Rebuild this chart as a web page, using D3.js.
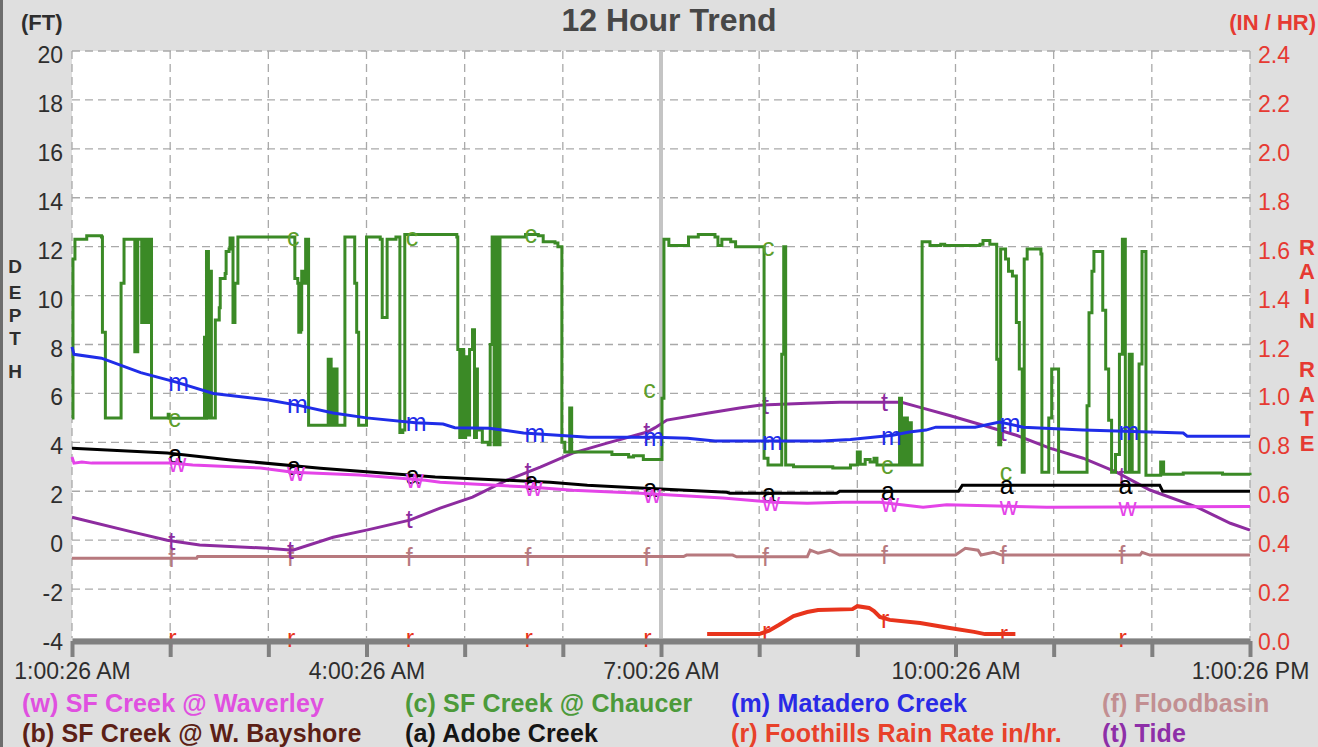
<!DOCTYPE html>
<html><head><meta charset="utf-8">
<script src="https://cdn.jsdelivr.net/npm/d3@7"></script>
<style>
body{margin:0;background:#dfdfdf;}
svg{display:block;font-family:"Liberation Sans",Arial,Helvetica,sans-serif;}
</style>
</head><body>
<svg id="chart" width="1318" height="747"></svg>
<script>
// ---------- DATA (time in hours after 1:00:26 AM, depth in ft, rain in in/hr) ----------
const depthTicks = [20,18,16,14,12,10,8,6,4,2,0,-2,-4];
const rateTicks = [2.4,2.2,2.0,1.8,1.6,1.4,1.2,1.0,0.8,0.6,0.4,0.2,0.0];
const hourTicks = [0,1,2,3,4,5,6,7,8,9,10,11,12];
const timeLabels = {0:"1:00:26 AM",3:"4:00:26 AM",6:"7:00:26 AM",9:"10:00:26 AM",12:"1:00:26 PM"};
const labelHours = [0.98,2.19,3.40,4.61,5.82,7.03,8.24,9.45,10.66];

const chaucer = [[0,5.0],[0.01,11.5],[0.03,12.3],[0.15,12.45],[0.30,12.4],[0.31,8.5],[0.34,5.0],[0.49,5.0],[0.50,10.5],[0.53,12.3],[0.62,12.3],[0.64,7.7],[0.67,12.3],[0.71,8.9],[0.74,12.3],[0.76,8.9],[0.79,12.3],[0.81,5.0],
[0.98,5.15],[0.99,4.98],[1.33,4.98],[1.35,8.3],[1.36,4.98],[1.37,11.8],[1.39,5.0],[1.41,11.0],[1.42,5.0],[1.46,9.0],[1.50,9.5],[1.51,10.7],[1.56,10.9],[1.57,11.8],[1.60,11.9],[1.61,12.35],[1.64,8.9],[1.66,10.5],[1.69,12.4],[2.26,12.4],[2.27,10.7],[2.30,10.5],[2.31,8.5],[2.33,8.6],[2.34,11.0],[2.37,10.5],[2.38,12.3],[2.41,4.7],[2.60,4.7],[2.61,7.4],[2.64,4.7],[2.67,7.0],[2.70,4.7],[2.76,4.7],[2.78,12.4],[2.86,12.4],[2.88,10.5],[2.90,8.5],[2.92,4.7],[2.99,4.7],[3.00,12.4],[3.14,12.3],[3.16,9.1],[3.19,9.1],[3.21,12.3],[3.30,12.4],[3.34,4.4],[3.37,4.5],[3.39,12.5],[3.92,12.4],[3.93,7.8],[3.95,4.2],
[3.97,7.8],[3.99,4.2],[4.01,7.5],[4.03,4.3],[4.05,7.8],[4.08,8.6],[4.10,4.2],[4.12,7.0],[4.13,4.5],[4.18,4.0],[4.24,3.9],[4.26,8.0],[4.28,12.4],[4.30,3.9],[4.33,12.4],[4.34,3.9],[4.36,12.4],[4.62,12.5],[4.75,12.45],[4.80,12.2],[4.92,12.15],[4.95,12.0],[4.99,4.0],[5.02,3.6],[5.07,5.4],[5.09,3.6],[5.19,3.6],[5.50,3.5],[5.67,3.4],[5.72,3.45],[5.82,3.3],[6.01,5.8],[6.03,12.3],[6.08,12.05],[6.27,12.05],[6.28,12.4],[6.38,12.5],[6.55,12.4],[6.58,12.05],[6.62,12.3],[6.71,12.2],[6.76,12.0],[7.05,3.35],[7.09,3.07],[7.23,7.6],[7.25,12.0],[7.27,3.07],[7.35,3.0],[7.75,2.95],[7.93,3.07],[8.00,3.6],[8.03,3.1],[8.08,3.3],[8.13,3.2],[8.17,3.35],[8.20,3.07],[8.43,5.8],[8.45,3.07],[8.48,5.0],[8.51,3.07],[8.53,4.8],[8.55,3.07],[8.66,12.2],[8.74,12.05],[8.85,12.1],[8.89,12.05],[9.25,12.1],[9.28,12.25],[9.35,12.1],[9.42,7.4],[9.44,3.9],[9.46,11.9],[9.51,11.5],[9.54,11.0],[9.58,10.8],[9.62,8.9],[9.65,7.0],[9.68,2.78],[9.70,11.5],[9.73,11.9],[9.87,11.7],[9.88,2.78],[9.95,5.0],[9.98,7.0],[10.05,2.78],[10.34,5.5],[10.36,9.3],[10.39,11.0],[10.41,11.8],[10.50,9.4],[10.53,7.0],[10.56,4.9],[10.59,2.78],[10.63,3.5],[10.67,7.6],[10.70,12.3],[10.73,2.78],[10.77,7.6],[10.80,2.78],[10.87,7.2],[10.90,11.8],[10.94,2.65],[11.09,3.2],[11.12,2.7],[11.32,2.75],[11.72,2.7],[12,2.65]];
const chaucerLabelValues = [5.0,12.4,12.4,12.5,6.2,12.0,3.07,2.8,null];

const matadero = [[0,7.9],[0.02,7.6],[0.30,7.44],[0.70,6.85],[1.07,6.45],[1.44,6.0],[2.00,5.73],[2.32,5.5],[2.66,5.2],[3.00,5.0],[3.50,4.8],[3.78,4.75],[3.90,4.6],[4.25,4.58],[4.60,4.38],[5.26,4.21],[5.94,4.21],[6.27,4.17],[6.55,4.05],[7.64,4.05],[7.93,4.12],[8.36,4.29],[8.53,4.42],[8.70,4.5],[8.80,4.62],[9.20,4.62],[9.45,4.83],[9.69,4.62],[10.30,4.5],[11.32,4.38],[11.36,4.25],[12,4.25]];

const adobe = [[0,3.76],[0.97,3.56],[1.64,3.27],[2.53,2.94],[3.70,2.58],[4.87,2.37],[5.25,2.25],[5.79,2.13],[6.67,1.96],[6.70,1.92],[7.79,1.92],[7.82,2.0],[9.03,2.0],[9.07,2.25],[11.08,2.25],[11.11,2.0],[12,2.0]];

const waverley = [[0,3.4],[0.02,3.15],[0.10,3.2],[0.20,3.15],[1.00,3.15],[1.23,3.07],[1.92,2.95],[2.25,2.78],[2.93,2.66],[3.60,2.45],[3.75,2.37],[4.66,2.17],[5.10,2.04],[5.79,1.92],[6.63,1.72],[7.14,1.55],[7.49,1.51],[7.85,1.55],[8.23,1.55],[8.67,1.35],[8.91,1.45],[9.93,1.35],[12,1.38]];

const tide = [[0,0.94],[0.62,0.33],[0.97,0.0],[1.30,-0.2],[1.99,-0.33],[2.25,-0.41],[2.66,0.12],[3.00,0.41],[3.44,0.82],[3.75,1.31],[4.08,1.76],[4.43,2.45],[4.77,2.99],[5.10,3.56],[5.45,3.97],[5.86,4.42],[5.94,4.6],[6.06,4.91],[6.47,5.19],[6.80,5.4],[7.00,5.52],[7.49,5.6],[7.82,5.64],[8.45,5.64],[8.62,5.45],[8.94,5.1],[9.28,4.7],[9.62,4.29],[9.96,3.76],[10.30,3.35],[10.64,2.78],[10.98,2.05],[11.46,1.35],[11.80,0.69],[12,0.41]];

const floodbasin = [[0,-0.74],[1.27,-0.74],[1.28,-0.67],[6.23,-0.67],[6.26,-0.61],[6.73,-0.61],[6.77,-0.68],[7.49,-0.68],[7.52,-0.41],[7.60,-0.53],[7.72,-0.41],[7.82,-0.61],[9.00,-0.61],[9.10,-0.33],[9.23,-0.41],[9.26,-0.61],[9.39,-0.5],[9.47,-0.61],[10.88,-0.61],[10.90,-0.5],[10.98,-0.61],[12,-0.61]];

const rainRate = [[6.47,0.016],[7.00,0.016],[7.10,0.03],[7.20,0.053],[7.35,0.09],[7.49,0.106],[7.60,0.114],[7.95,0.118],[8.00,0.13],[8.12,0.123],[8.17,0.11],[8.23,0.086],[8.33,0.074],[8.64,0.061],[8.94,0.041],[9.19,0.025],[9.30,0.016],[9.61,0.016]];

const legendRow1 = ["(w) SF Creek @ Waverley","(c) SF Creek @ Chaucer","(m) Matadero Creek","(f) Floodbasin"];
const legendRow2 = ["(b) SF Creek @ W. Bayshore","(a) Adobe Creek","(r) Foothills Rain Rate in/hr.","(t) Tide"];

// ---------- RENDER ----------
const svg = d3.select("#chart");
const W = 1318, H = 747;
const L = 72, R = 1250, T = 51, B = 638;
const x = d3.scaleLinear([0,12],[L,R]);
const y = d3.scaleLinear([-4,20],[B,T]);
const yR = d3.scaleLinear([0,2.4],[B,T]);

svg.append("rect").attr("width",W).attr("height",H).attr("fill","#dfdfdf");
svg.append("rect").attr("x",0).attr("y",0).attr("width",3).attr("height",H).attr("fill","#6d6d6d");
svg.append("rect").attr("x",L).attr("y",T).attr("width",R-L).attr("height",B-T).attr("fill","#fff");

// grid
const grid = svg.append("g").attr("stroke","#a9a9a9").attr("stroke-width",1.3).attr("stroke-dasharray","8,5");
grid.selectAll("line.h").data(depthTicks.filter(d=>d>-4)).join("line")
  .attr("x1",L).attr("x2",R).attr("y1",d=>y(d)).attr("y2",d=>y(d));
grid.selectAll("line.v").data(hourTicks.filter(d=>d!==6)).join("line")
  .attr("x1",d=>x(d)).attr("x2",d=>x(d)).attr("y1",T).attr("y2",B);
svg.append("line").attr("x1",x(6)).attr("x2",x(6)).attr("y1",T).attr("y2",B)
  .attr("stroke","#c4c4c4").attr("stroke-width",4);

// left axis labels
const gl = svg.append("g").attr("transform",`translate(${L},0)`)
  .call(d3.axisLeft(y).tickValues(depthTicks).tickSize(0).tickPadding(9).tickFormat(d=>String(d)));
gl.select(".domain").remove();
gl.selectAll("text").attr("font-size",23).attr("fill","#2e2e2e").attr("dy","0.5em")
  .attr("font-family","Liberation Sans, Arial, sans-serif");

// right axis labels
const gr = svg.append("g").attr("transform",`translate(${R},0)`)
  .call(d3.axisRight(yR).tickValues(rateTicks).tickSize(0).tickPadding(8).tickFormat(d=>d.toFixed(1)));
gr.select(".domain").remove();
gr.selectAll("text").attr("font-size",23).attr("fill","#e63a32").attr("dy","0.5em")
  .attr("font-family","Liberation Sans, Arial, sans-serif");

// series
function valAt(data,h){
  if(h<data[0][0]||h>data[data.length-1][0]) return null;
  const i = d3.bisector(d=>d[0]).left(data,h);
  if(i===0) return data[0][1];
  const a=data[i-1], b=data[i];
  return a[1]+(b[1]-a[1])*(h-a[0])/(b[0]-a[0]);
}
const series = [
  {k:"f",data:floodbasin,color:"#b7797e",w:3,sc:y},
  {k:"t",data:tide,color:"#8d2c9f",w:3,sc:y},
  {k:"c",data:chaucer,color:"#3b8a26",w:3,sc:y,lc:"#5e9e2c",curve:d3.curveStepAfter,lv:chaucerLabelValues},
  {k:"a",data:adobe,color:"#000",w:3,sc:y},
  {k:"w",data:waverley,color:"#e444e8",w:3,sc:y},
  {k:"m",data:matadero,color:"#1f2de8",w:3,sc:y},
  {k:"r",data:rainRate,color:"#e8341c",w:4,sc:yR}
];
series.forEach(s=>{
  const gen = d3.line().x(d=>x(d[0])).y(d=>s.sc(d[1])).curve(s.curve||d3.curveLinear);
  svg.append("path").datum(s.data).attr("d",gen).attr("fill","none")
    .attr("stroke",s.color).attr("stroke-width",s.w).attr("stroke-linejoin","miter");
  const pts = labelHours.map((h,i)=>{
    let v = s.lv ? s.lv[i] : valAt(s.data,h+0.06);
    if(s.lv && v===null) return null;
    if(v===null) v = 0;
    return {h:h,v:v};
  }).filter(d=>d);
  svg.append("g").selectAll("text").data(pts).join("text")
    .attr("x",d=>x(d.h)).attr("y",d=>s.sc(d.v))
    .attr("dominant-baseline","central").attr("font-size",25)
    .attr("fill",s.lc||s.color).text(s.k);
});

// bottom axis
const gb = svg.append("g").attr("transform",`translate(0,${B+3})`)
  .call(d3.axisBottom(x).tickValues(hourTicks).tickSizeInner(16).tickSizeOuter(0).tickPadding(6)
    .tickFormat(d=>timeLabels[d]||""));
gb.select(".domain").attr("stroke","#808080").attr("stroke-width",6);
gb.selectAll(".tick line").attr("stroke","#808080").attr("stroke-width",4);
gb.selectAll("text").attr("font-size",23).attr("fill","#2e2e2e")
  .attr("font-family","Liberation Sans, Arial, sans-serif");

// titles
svg.append("text").attr("x",669).attr("y",31).attr("text-anchor","middle")
  .attr("font-size",32).attr("font-weight","bold").attr("fill","#474747").text("12 Hour Trend");
svg.append("text").attr("x",21).attr("y",30).attr("font-size",22).attr("font-weight","bold")
  .attr("fill","#2e2e2e").text("(FT)");
svg.append("text").attr("x",1316).attr("y",30).attr("text-anchor","end").attr("font-size",22)
  .attr("font-weight","bold").attr("fill","#e63a32").text("(IN / HR)");

const depthY = [266,292,315,338,371];
svg.append("g").selectAll("text").data("DEPTH".split("")).join("text")
  .attr("x",15).attr("y",(d,i)=>depthY[i]).attr("text-anchor","middle").attr("dominant-baseline","central")
  .attr("font-size",19).attr("font-weight","bold").attr("fill","#2e2e2e").text(d=>d);
svg.append("g").selectAll("text").data("RAIN RATE".split("")).join("text")
  .attr("x",1307).attr("y",(d,i)=>247+i*24.5).attr("text-anchor","middle").attr("dominant-baseline","central")
  .attr("font-size",22).attr("font-weight","bold").attr("fill","#e63a32").text(d=>d);

// legend
const legX = [22,405,731,1102];
const col1 = ["#e050e0","#4c9a3a","#2a2ae6","#c28f92"];
const col2 = ["#5c1f16","#151515","#e8412a","#8e2fa8"];
svg.append("g").selectAll("text").data(legendRow1).join("text")
  .attr("x",(d,i)=>legX[i]).attr("y",712).attr("font-size",25).attr("font-weight","bold")
  .attr("letter-spacing",0.15).attr("fill",(d,i)=>col1[i]).text(d=>d);
svg.append("g").selectAll("text").data(legendRow2).join("text")
  .attr("x",(d,i)=>legX[i]).attr("y",742).attr("font-size",25).attr("font-weight","bold")
  .attr("letter-spacing",0.15).attr("fill",(d,i)=>col2[i]).text(d=>d);
</script>
</body></html>
